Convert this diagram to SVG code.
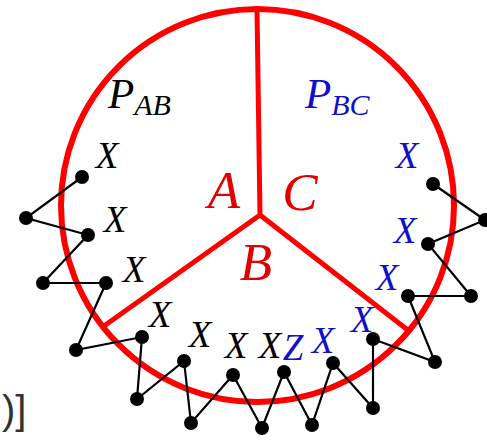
<svg xmlns="http://www.w3.org/2000/svg" width="487" height="441" viewBox="0 0 487 441">
<style>
.red{stroke:#f00;fill:none;stroke-linecap:round}
.lbl{font-family:"Liberation Serif","Times New Roman",serif;font-style:italic;font-weight:normal}
.x{font-size:37px;text-anchor:middle}
.blk{fill:#000}
.blu{fill:#1010c8}
.rd{fill:#e00000;font-size:53px;text-anchor:middle}
.chain{stroke:#000;stroke-width:2.2;fill:none}
.dot{fill:#000}
</style>
<rect width="487" height="441" fill="#fff"/>
<g id="partition">
<circle class="red" cx="257.5" cy="205.5" r="196.5" stroke-width="6"/>
<path class="red" stroke-width="5" d="M257,10 L260,215 M260,215 L104,326 M260,215 L409,331"/>
</g>
<g id="connectors">
<polyline class="chain" points="82,177 26,218 88,235 43,283 106,283 76,350 142,337 137,399 184,361 191,423 233,375 262,428 284,372 312,425 333,363 373,408 373,339 435,362 408,296 471,296 428,244 485,220 433,184"/>
</g>
<g id="dots">
<circle class="dot" cx="82" cy="177" r="7"/>
<circle class="dot" cx="26" cy="218" r="7"/>
<circle class="dot" cx="88" cy="235" r="7"/>
<circle class="dot" cx="43" cy="283" r="7"/>
<circle class="dot" cx="106" cy="283" r="7"/>
<circle class="dot" cx="76" cy="350" r="7"/>
<circle class="dot" cx="142" cy="337" r="7"/>
<circle class="dot" cx="137" cy="399" r="7"/>
<circle class="dot" cx="184" cy="361" r="7"/>
<circle class="dot" cx="191" cy="423" r="7"/>
<circle class="dot" cx="233" cy="375" r="7"/>
<circle class="dot" cx="262" cy="428" r="7"/>
<circle class="dot" cx="284" cy="372" r="7"/>
<circle class="dot" cx="312" cy="425" r="7"/>
<circle class="dot" cx="333" cy="363" r="7"/>
<circle class="dot" cx="373" cy="408" r="7"/>
<circle class="dot" cx="373" cy="339" r="7"/>
<circle class="dot" cx="435" cy="362" r="7"/>
<circle class="dot" cx="408" cy="296" r="7"/>
<circle class="dot" cx="471" cy="296" r="7"/>
<circle class="dot" cx="428" cy="244" r="7"/>
<circle class="dot" cx="485" cy="220" r="7"/>
<circle class="dot" cx="433" cy="184" r="7"/>
</g>
<g id="region-labels" class="lbl">
<text class="rd" x="224" y="208">A</text>
<text class="rd" x="300" y="210">C</text>
<text class="rd" x="256" y="280">B</text>
</g>
<g id="p-labels" class="lbl">
<text class="blk" x="108" y="108" font-size="43">P<tspan font-size="30" dy="7">AB</tspan></text>
<text class="blu" x="305" y="108" font-size="43">P<tspan font-size="30" dy="7">BC</tspan></text>
</g>
<g id="x-labels" class="lbl x">
<text class="blk" x="107" y="168">X</text>
<text class="blk" x="115" y="232">X</text>
<text class="blk" x="134" y="282">X</text>
<text class="blk" x="160" y="327">X</text>
<text class="blk" x="200" y="347">X</text>
<text class="blk" x="236" y="358">X</text>
<text class="blk" x="270" y="358">X</text>
<text class="blu" x="293" y="360">Z</text>
<text class="blu" x="323" y="353">X</text>
<text class="blu" x="362" y="332">X</text>
<text class="blu" x="407" y="168">X</text>
<text class="blu" x="405" y="243">X</text>
<text class="blu" x="387" y="290">X</text>
</g>
<text x="2" y="424" font-family="'Liberation Sans',sans-serif" font-size="40" fill="#333">)]</text>
</svg>
